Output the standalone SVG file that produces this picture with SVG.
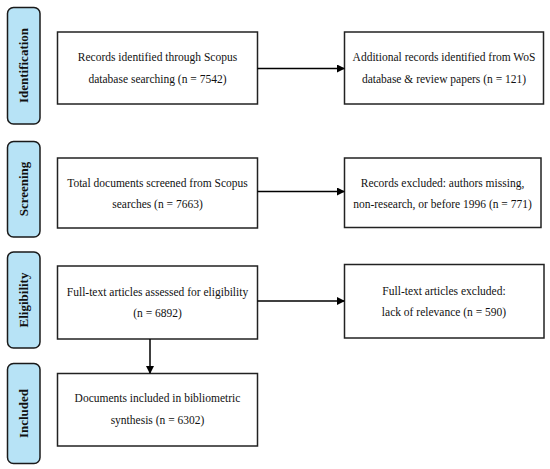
<svg xmlns="http://www.w3.org/2000/svg" width="550" height="469" viewBox="0 0 550 469">
<defs>
<marker id="ah" markerWidth="8" markerHeight="8" refX="7" refY="4" orient="auto" markerUnits="userSpaceOnUse">
<path d="M0,0 L8,4 L0,8 Z" fill="#000"/>
</marker>
<style>
.pill{fill:#b7e3f6;stroke:#1a1a1a;stroke-width:1.5}
.pl{font-family:"Liberation Serif","DejaVu Serif",serif;font-weight:bold;font-size:13px;fill:#111;text-anchor:middle}
.box{fill:#fff;stroke:#222;stroke-width:1.5}
.t{font-family:"Liberation Serif","DejaVu Serif",serif;font-size:11.5px;fill:#111;text-anchor:middle}
.c{stroke:#000;stroke-width:1.5;fill:none;marker-end:url(#ah)}
</style>
</defs>
<rect width="550" height="469" fill="#fff"/>
<g id="stage-identification">
<rect class="pill" x="7.5" y="7.5" width="32.5" height="116.5" rx="6"/>
<text class="pl" transform="translate(28,65.5) rotate(-90)">Identification</text>
</g>
<g id="stage-screening">
<rect class="pill" x="7.5" y="141.5" width="32.5" height="95.5" rx="6"/>
<text class="pl" transform="translate(28,189) rotate(-90)">Screening</text>
</g>
<g id="stage-eligibility">
<rect class="pill" x="7.5" y="252" width="32.5" height="96" rx="6"/>
<text class="pl" transform="translate(28,300) rotate(-90)">Eligibility</text>
</g>
<g id="stage-included">
<rect class="pill" x="7.5" y="363.5" width="32.5" height="100" rx="6"/>
<text class="pl" transform="translate(28,413.5) rotate(-90)">Included</text>
</g>
<g id="n1">
<rect class="box" x="57.5" y="32" width="200" height="72"/>
<text class="t" x="157.5" y="61">Records identified through Scopus</text>
<text class="t" x="157.5" y="83">database searching (n = 7542)</text>
</g>
<g id="n2">
<rect class="box" x="344.5" y="32" width="199" height="72"/>
<text class="t" x="444" y="61">Additional records identified from WoS</text>
<text class="t" x="444" y="83">database &amp; review papers (n = 121)</text>
</g>
<g id="n3">
<rect class="box" x="57.5" y="158" width="200" height="70"/>
<text class="t" x="157.5" y="187">Total documents screened from Scopus</text>
<text class="t" x="157.5" y="208">searches (n = 7663)</text>
</g>
<g id="n4">
<rect class="box" x="344.5" y="158" width="196.5" height="69.5"/>
<text class="t" x="442.5" y="187">Records excluded: authors missing,</text>
<text class="t" x="442.5" y="208">non-research, or before 1996 (n = 771)</text>
</g>
<g id="n5">
<rect class="box" x="57.5" y="266" width="200" height="73"/>
<text class="t" x="157.5" y="296">Full-text articles assessed for eligibility</text>
<text class="t" x="157.5" y="317">(n = 6892)</text>
</g>
<g id="n6">
<rect class="box" x="344.5" y="264.5" width="199.5" height="73.5"/>
<text class="t" x="444" y="295">Full-text articles excluded:</text>
<text class="t" x="444" y="316">lack of relevance (n = 590)</text>
</g>
<g id="n7">
<rect class="box" x="57.5" y="373.5" width="200" height="72.5"/>
<text class="t" x="157.5" y="402">Documents included in bibliometric</text>
<text class="t" x="157.5" y="424">synthesis (n = 6302)</text>
</g>
<g id="connectors">
<path class="c" d="M257.5,68.5 H344"/>
<path class="c" d="M257.5,191.5 H344"/>
<path class="c" d="M257.5,301 H344"/>
<path class="c" d="M150,339 V373"/>
</g>
</svg>
